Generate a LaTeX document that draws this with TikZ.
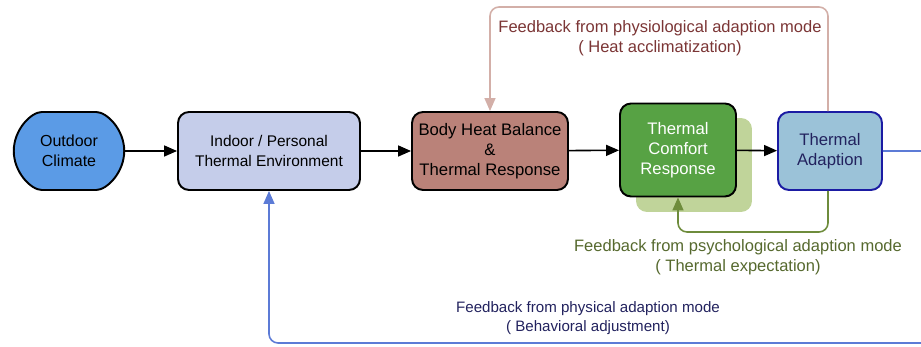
\documentclass[tikz,border=0pt]{standalone}
\usepackage{fontspec}
\setmainfont{Liberation Sans}
\usetikzlibrary{arrows.meta}
\usetikzlibrary{shapes.misc}

\definecolor{outdoorblue}{HTML}{5B9BE6}
\definecolor{indoorblue}{HTML}{C5CDEA}
\definecolor{bodyred}{HTML}{BA8279}
\definecolor{comfortgreen}{HTML}{57A244}
\definecolor{comfortshade}{HTML}{C0D49A}
\definecolor{adaptblue}{HTML}{9BC2D8}
\definecolor{adaptedge}{HTML}{1B1BA3}
\definecolor{heatline}{HTML}{D3AFA8}
\definecolor{heattext}{HTML}{7B3535}
\definecolor{psychline}{HTML}{6E8C3C}
\definecolor{psychtext}{HTML}{56692E}
\definecolor{physline}{HTML}{5C7BD6}
\definecolor{phystext}{HTML}{22225E}

\tikzset{
  boxstyle/.style={draw=black, line width=1.1pt, rounded corners=0.22cm, align=center,
    minimum height=1.56cm, inner sep=1pt, font=\fontsize{8.8}{11.3}\selectfont},
  bigtext/.style={font=\fontsize{9.5}{11.4}\selectfont},
  flowarrow/.style={line width=0.9pt, -{Triangle[length=0.26cm,width=0.22cm]}},
  fbarrow/.style={line width=0.9pt, rounded corners=0.18cm, -{Triangle[length=0.26cm,width=0.22cm]}},
  fblabel/.style={align=center, font=\fontsize{9.4}{11.6}\selectfont}
}

\begin{document}
\begin{tikzpicture}[x=0.02cm, y=-0.02cm]
		\clip (0, 0) rectangle (921, 347);
		% boxes
		\node[boxstyle, rounded rectangle, fill=outdoorblue, minimum width=2.28cm, font=\fontsize{9.1}{11.3}\selectfont] (outdoor) at (69, 151) {Outdoor\\Climate};
		\node[boxstyle, fill=indoorblue, minimum width=3.64cm] (indoor) at (269, 151) {Indoor / Personal\\Thermal Environment};
		\node[boxstyle, bigtext, fill=bodyred, minimum width=3.12cm] (body) at (490, 151) {Body Heat Balance\\\&\\Thermal Response};
		\node[rounded corners=0.22cm, fill=comfortshade, minimum width=2.32cm, minimum height=1.88cm] (comfortshadow) at (694, 165) {};
		\node[boxstyle, bigtext, fill=comfortgreen, text=white, minimum width=2.32cm, minimum height=1.86cm] (comfort) at (678, 150) {Thermal\\Comfort\\Response};
		\node[boxstyle, bigtext, draw=adaptedge, fill=adaptblue, text=phystext, minimum width=2.08cm] (adapt) at (830, 151) {Thermal\\Adaption};
		% main flow
		\draw[flowarrow] (outdoor) to (indoor);
		\draw[flowarrow] (indoor) to (body);
		\draw[flowarrow] (body) to (comfort);
		\draw[flowarrow] (comfort) to (adapt);
		% feedback loops
		\coordinate (heattop) at (828, 7);
		\coordinate (psychlow) at (828, 232);
		\coordinate (physright) at (940, 151);
		\coordinate (physlow) at (940, 343);
		\draw[fbarrow, heatline] (adapt.north -| heattop) to (heattop) -| (body.north);
		\draw[fbarrow, psychline] (adapt.south -| psychlow) to (psychlow) -| (comfort.south);
		\draw[fbarrow, physline] (adapt.east) to (physright) to (physlow) -| (indoor.south);
		% labels
		\node[fblabel, text=heattext] (heatlbl) at (660, 38) {Feedback from physiological adaption mode\\( Heat acclimatization)};
		\node[fblabel, text=psychtext] (psychlbl) at (738, 257) {Feedback from psychological adaption mode\\( Thermal expectation)};
		\node[fblabel, text=phystext, font=\fontsize{8.6}{10.4}\selectfont] (physlbl) at (588, 318) {Feedback from physical adaption mode\\( Behavioral adjustment)};
	\end{tikzpicture}
\end{document}
